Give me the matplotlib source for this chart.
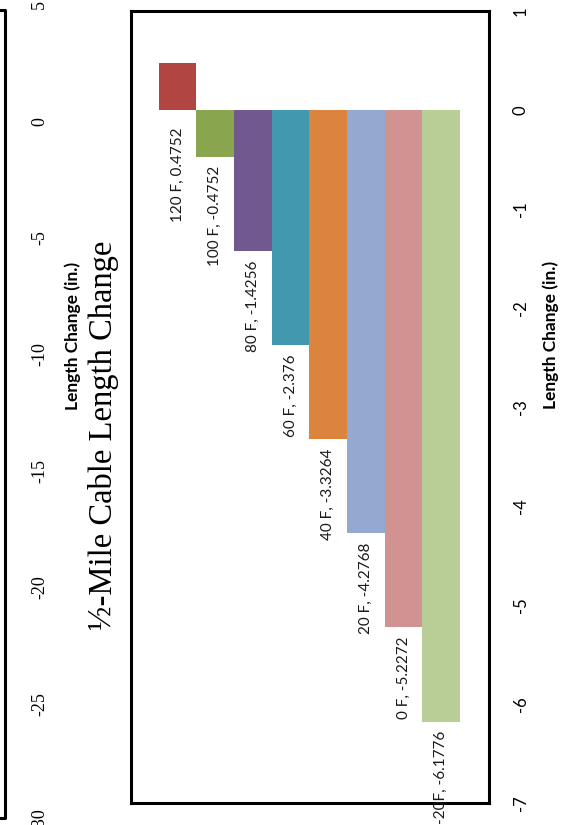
import matplotlib
matplotlib.use("Agg")
import matplotlib.pyplot as plt
from matplotlib.lines import Line2D

# Temperature steps and the resulting length change of a half-mile cable
categories = ["120 F", "100 F", "80 F", "60 F", "40 F", "20 F", "0 F", "-20F"]
length_change = [0.4752, -0.4752, -1.4256, -2.376, -3.3264, -4.2768, -5.2272, -6.1776]
bar_colors = ["#B04541", "#89A54E", "#71588F", "#4198AF",
              "#DB843D", "#93A9CF", "#D19392", "#B9CD96"]
value_ticks = [1, 0, -1, -2, -3, -4, -5, -6, -7]
# value axis of the neighbouring chart on the same page
neighbour_ticks = [5, 0, -5, -10, -15, -20, -25, -30]
title = "\u00bd-Mile Cable Length Change"
axis_title = "Length Change (in.)"

W, H = 573, 825
SANS = ["Lato", "DejaVu Sans"]
SERIF = ["Liberation Serif", "DejaVu Serif"]


def fx(px):
    return px / W


def fy(py):
    return 1 - py / H


fig = plt.figure(figsize=(W / 100, H / 100), dpi=100)

# main (page-rotated) column chart
ax = fig.add_axes([fx(130.5), fy(803), (489 - 130.5) / W, (803 - 11) / H])
x = list(range(len(categories)))
ax.bar(x, length_change, width=1.0, color=bar_colors, linewidth=0)
ax.set_xlim(-1.245, 8.27)
ax.set_ylim(-7, 1)
ax.set_xticks([])
ax.yaxis.tick_right()
ax.set_yticks(value_ticks)
ax.set_yticklabels([str(t) for t in value_ticks])
ax.tick_params(axis="y", length=0, pad=17, labelsize=12, labelrotation=90)
for lab in ax.get_yticklabels():
    lab.set_family(SANS)
    lab.set_ha("left")
    lab.set_va("center")
for s in ax.spines.values():
    s.set_linewidth(2.2)
    s.set_color("black")

for i, v in zip(x, length_change):
    ax.annotate(f"{categories[i]}, {v}", xy=(i, min(v, 0)),
                xytext=(0, -6.5 if v < 0 else -12.5), textcoords="offset points",
                rotation=90, ha="center", va="top", fontsize=11, family=SANS,
                color="#1a1a1a", annotation_clip=False)

# neighbouring chart: value axis labels and frame edge
axl = fig.add_axes([0, fy(820), fx(4.5), (820 - 5) / H])
axl.set_ylim(-30, 5)
axl.set_xticks([])
axl.yaxis.tick_right()
axl.set_yticks(neighbour_ticks)
axl.set_yticklabels([str(t) for t in neighbour_ticks])
axl.tick_params(axis="y", length=0, pad=19, labelsize=13, labelrotation=90)
for lab in axl.get_yticklabels():
    lab.set_family(SERIF)
    lab.set_ha("left")
    lab.set_va("center")
for s in axl.spines.values():
    s.set_visible(False)
axl.patch.set_visible(False)

fig.add_artist(Line2D([0, fx(4.5), fx(4.5), 0], [fy(10), fy(10), fy(818), fy(818)],
                      transform=fig.transFigure, color="black", lw=2.2))

fig.text(fx(73), fy(336), axis_title, rotation=90, ha="center", va="center",
         fontsize=12.5, fontweight="bold", family=SANS)
fig.text(fx(551), fy(335), axis_title, rotation=90, ha="center", va="center",
         fontsize=12.5, fontweight="bold", family=SANS)
fig.text(fx(104), fy(435), title, rotation=90, ha="center", va="center",
         fontsize=23.5, family=SERIF)

fig.savefig("out.png", dpi=100)
